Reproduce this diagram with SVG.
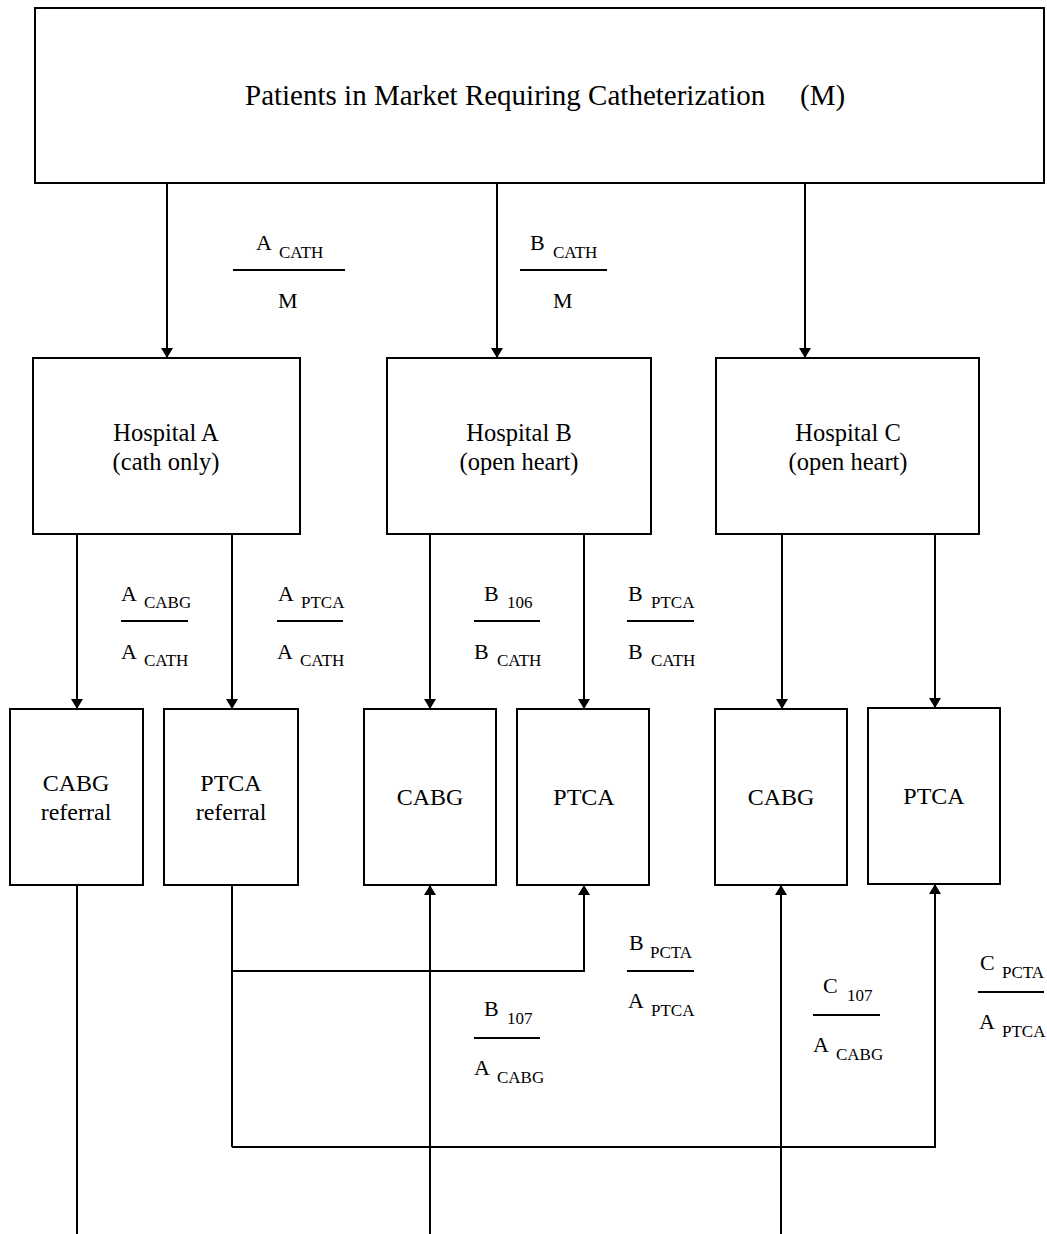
<svg xmlns="http://www.w3.org/2000/svg" width="1047" height="1234" viewBox="0 0 1047 1234">
<style>
text{font-family:"Liberation Serif","Times New Roman",serif;fill:#000}
.box{fill:#fff;stroke:#000;stroke-width:2}
.t{font-size:29px}
.h{font-size:24.5px;text-anchor:middle}
.b{font-size:24px;text-anchor:middle}
.L{font-size:22px}
.s{font-size:17px}
.ln{stroke:#000;stroke-width:2;fill:none}
.fr{stroke:#000;stroke-width:2}
</style>
<defs>
<marker id="ah" viewBox="0 0 10 12" refX="10" refY="6" markerWidth="10" markerHeight="12" markerUnits="userSpaceOnUse" orient="auto">
<path d="M0,0 L10,6 L0,12 Z" fill="#000"/>
</marker>
</defs>
<rect width="1047" height="1234" fill="#fff"/>

<g id="market">
<rect class="box" x="35" y="8" width="1009" height="175"/>
<text class="t" x="245" y="105">Patients in Market Requiring Catheterization</text>
<text class="t" x="800" y="105">(M)</text>
</g>

<g id="hospitalA">
<rect class="box" x="33" y="358" width="267" height="176"/>
<text class="h" x="166" y="441">Hospital A</text>
<text class="h" x="166" y="470">(cath only)</text>
</g>
<g id="hospitalB">
<rect class="box" x="387" y="358" width="264" height="176"/>
<text class="h" x="519" y="441">Hospital B</text>
<text class="h" x="519" y="470">(open heart)</text>
</g>
<g id="hospitalC">
<rect class="box" x="716" y="358" width="263" height="176"/>
<text class="h" x="848" y="441">Hospital C</text>
<text class="h" x="848" y="470">(open heart)</text>
</g>

<g id="cabgReferral">
<rect class="box" x="10" y="709" width="133" height="176"/>
<text class="b" x="76" y="791">CABG</text>
<text class="b" x="76" y="820">referral</text>
</g>
<g id="ptcaReferral">
<rect class="box" x="164" y="709" width="134" height="176"/>
<text class="b" x="231" y="791">PTCA</text>
<text class="b" x="231" y="820">referral</text>
</g>
<g id="cabgB">
<rect class="box" x="364" y="709" width="132" height="176"/>
<text class="b" x="430" y="805">CABG</text>
</g>
<g id="ptcaB">
<rect class="box" x="517" y="709" width="132" height="176"/>
<text class="b" x="584" y="805">PTCA</text>
</g>
<g id="cabgC">
<rect class="box" x="715" y="709" width="132" height="176"/>
<text class="b" x="781" y="805">CABG</text>
</g>
<g id="ptcaC">
<rect class="box" x="868" y="708" width="132" height="176"/>
<text class="b" x="934" y="804">PTCA</text>
</g>

<g id="connectors">
<line class="ln" x1="167" y1="183" x2="167" y2="358" marker-end="url(#ah)"/>
<line class="ln" x1="497" y1="183" x2="497" y2="358" marker-end="url(#ah)"/>
<line class="ln" x1="805" y1="183" x2="805" y2="358" marker-end="url(#ah)"/>
<line class="ln" x1="77" y1="534" x2="77" y2="709" marker-end="url(#ah)"/>
<line class="ln" x1="232" y1="534" x2="232" y2="709" marker-end="url(#ah)"/>
<line class="ln" x1="430" y1="534" x2="430" y2="709" marker-end="url(#ah)"/>
<line class="ln" x1="584" y1="534" x2="584" y2="709" marker-end="url(#ah)"/>
<line class="ln" x1="782" y1="534" x2="782" y2="709" marker-end="url(#ah)"/>
<line class="ln" x1="935" y1="534" x2="935" y2="708" marker-end="url(#ah)"/>
<line class="ln" x1="77" y1="885" x2="77" y2="1234"/>
<line class="ln" x1="232" y1="885" x2="232" y2="1147"/>
<polyline class="ln" points="232,971 584,971 584,885" marker-end="url(#ah)"/>
<polyline class="ln" points="232,1147 935,1147 935,884" marker-end="url(#ah)"/>
<line class="ln" x1="430" y1="1234" x2="430" y2="885" marker-end="url(#ah)"/>
<line class="ln" x1="781" y1="1234" x2="781" y2="885" marker-end="url(#ah)"/>
</g>

<g id="labels">
<text class="L" x="256" y="250">A</text><text class="s" x="279" y="258">CATH</text>
<line class="fr" x1="233" y1="270" x2="345" y2="270"/>
<text class="L" x="278" y="308">M</text>

<text class="L" x="530" y="250">B</text><text class="s" x="553" y="258">CATH</text>
<line class="fr" x1="520" y1="270" x2="607" y2="270"/>
<text class="L" x="553" y="308">M</text>

<text class="L" x="121" y="601">A</text><text class="s" x="144" y="608">CABG</text>
<line class="fr" x1="121" y1="621" x2="188" y2="621"/>
<text class="L" x="121" y="659">A</text><text class="s" x="144" y="666">CATH</text>

<text class="L" x="278" y="601">A</text><text class="s" x="301" y="608">PTCA</text>
<line class="fr" x1="277" y1="621" x2="343" y2="621"/>
<text class="L" x="277" y="659">A</text><text class="s" x="300" y="666">CATH</text>

<text class="L" x="484" y="601">B</text><text class="s" x="507" y="608">106</text>
<line class="fr" x1="474" y1="621" x2="540" y2="621"/>
<text class="L" x="474" y="659">B</text><text class="s" x="497" y="666">CATH</text>

<text class="L" x="628" y="601">B</text><text class="s" x="651" y="608">PTCA</text>
<line class="fr" x1="627" y1="621" x2="694" y2="621"/>
<text class="L" x="628" y="659">B</text><text class="s" x="651" y="666">CATH</text>

<text class="L" x="629" y="950">B</text><text class="s" x="650" y="958">PCTA</text>
<line class="fr" x1="627" y1="971" x2="694" y2="971"/>
<text class="L" x="628" y="1008">A</text><text class="s" x="651" y="1016">PTCA</text>

<text class="L" x="484" y="1016">B</text><text class="s" x="507" y="1024">107</text>
<line class="fr" x1="474" y1="1038" x2="540" y2="1038"/>
<text class="L" x="474" y="1075">A</text><text class="s" x="497" y="1083">CABG</text>

<text class="L" x="823" y="993">C</text><text class="s" x="847" y="1001">107</text>
<line class="fr" x1="813" y1="1015" x2="880" y2="1015"/>
<text class="L" x="813" y="1052">A</text><text class="s" x="836" y="1060">CABG</text>

<text class="L" x="980" y="970">C</text><text class="s" x="1002" y="978">PCTA</text>
<line class="fr" x1="978" y1="992" x2="1044" y2="992"/>
<text class="L" x="979" y="1029">A</text><text class="s" x="1002" y="1037">PTCA</text>
</g>
</svg>
